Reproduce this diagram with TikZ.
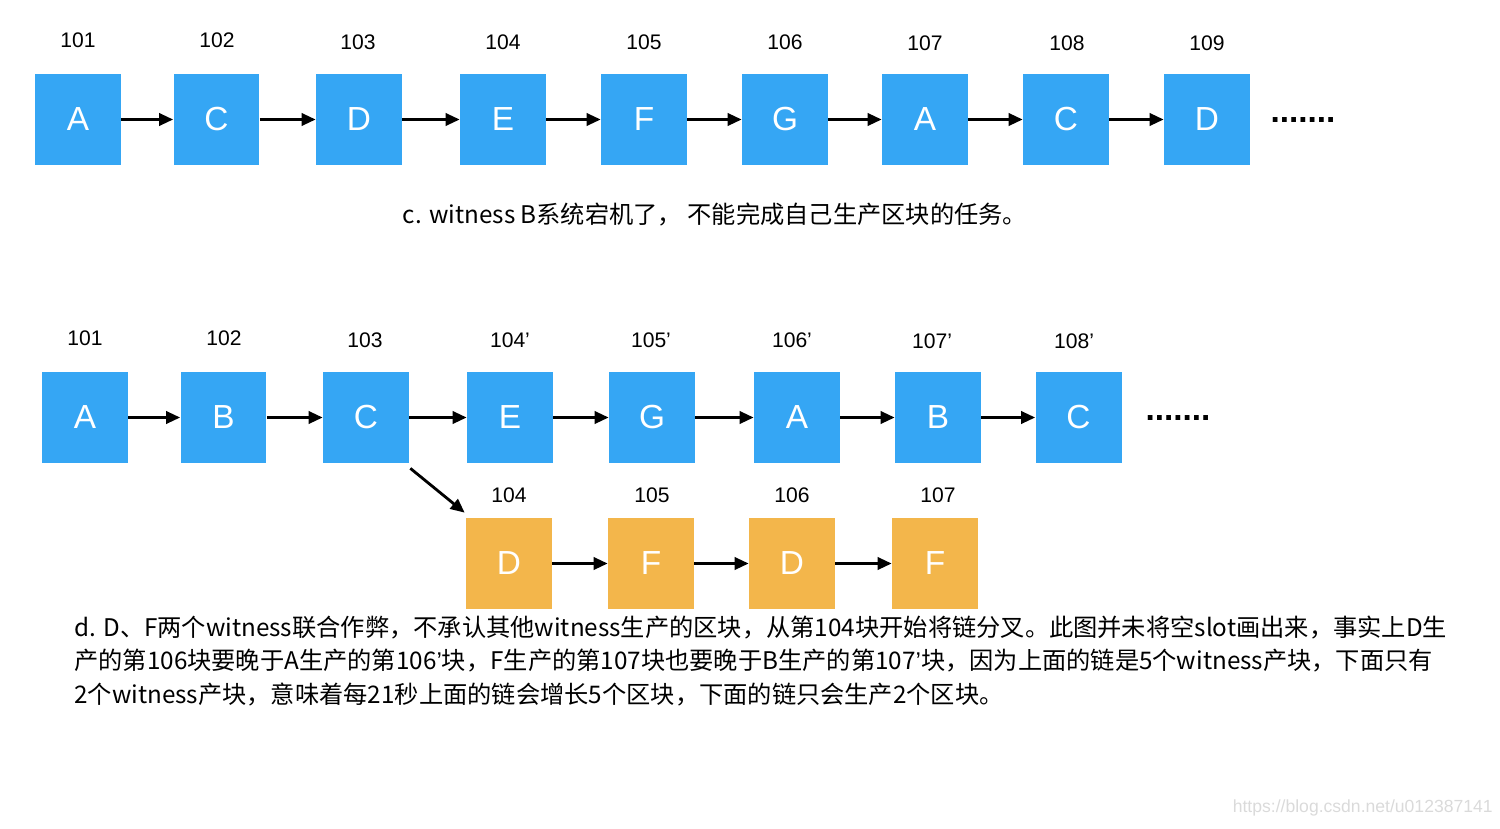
\documentclass[tikz,border=0pt]{standalone}
\usepackage{fontspec}
\setmainfont{Liberation Sans}
\newfontfamily\cjk{Noto Sans CJK SC}
\newfontfamily\latin{Liberation Sans}
\usetikzlibrary{arrows.meta,positioning}
\definecolor{Slot}{HTML}{35A6F4}
\definecolor{Fork}{HTML}{F3B64B}
\definecolor{Mark}{HTML}{DADADA}

\tikzset{
  block/.style={minimum width=1.72cm,minimum height=1.82cm,inner sep=0pt,
    fill=Slot,text=white,font=\fontsize{19}{22}\selectfont},
  forkblock/.style={block,fill=Fork},
  height/.style={font=\fontsize{12}{14}\selectfont,inner sep=0pt},
  link/.style={-{Triangle[length=8pt,width=7pt]},line width=1.6pt,black},
  more/.style={font=\fontsize{19}{20}\selectfont\bfseries,inner sep=0pt},
  note/.style={font=\cjk\fontsize{13.8}{19.3}\selectfont,inner sep=0pt}
}

\begin{document}
\begin{tikzpicture}[x=0.02cm,y=-0.02cm]
\useasboundingbox (0,0) rectangle (1500,828);
% chain c: B is down
\node[height] (ht1) at (78,40) {101};
\node[height] (ht2) at (217,40) {102};
\node[height] (ht3) at (358,42) {103};
\node[height] (ht4) at (503,42) {104};
\node[height] (ht5) at (644,42) {105};
\node[height] (ht6) at (785,42) {106};
\node[height] (ht7) at (925,43) {107};
\node[height] (ht8) at (1067,43) {108};
\node[height] (ht9) at (1207,43) {109};
\node[block] (t1) at (78,119.5) {A};
\node[block] (t2) at (216.5,119.5) {C};
\node[block] (t3) at (359,119.5) {D};
\node[block] (t4) at (503,119.5) {E};
\node[block] (t5) at (644,119.5) {F};
\node[block] (t6) at (785,119.5) {G};
\node[block] (t7) at (925,119.5) {A};
\node[block] (t8) at (1066,119.5) {C};
\node[block] (t9) at (1207,119.5) {D};
\node[more] (tmore) at (1303,120) {.......};
\draw[link] (t1) -- (t2);
\draw[link] (t2) -- (t3);
\draw[link] (t3) -- (t4);
\draw[link] (t4) -- (t5);
\draw[link] (t5) -- (t6);
\draw[link] (t6) -- (t7);
\draw[link] (t7) -- (t8);
\draw[link] (t8) -- (t9);
\node[note] (capc) at (715,215) {c. witness B系统宕机了， 不能完成自己生产区块的任务。};

% chain d: main chain
\node[height] (hm1) at (85,338) {101};
\node[height] (hm2) at (224,338) {102};
\node[height] (hm3) at (365,340) {103};
\node[height] (hm4) at (510,340) {104’};
\node[height] (hm5) at (651,340) {105’};
\node[height] (hm6) at (792,340) {106’};
\node[height] (hm7) at (932,341) {107’};
\node[height] (hm8) at (1074,341) {108’};
\node[block] (m1) at (85,417.5) {A};
\node[block] (m2) at (223.5,417.5) {B};
\node[block] (m3) at (366,417.5) {C};
\node[block] (m4) at (510,417.5) {E};
\node[block] (m5) at (652,417.5) {G};
\node[block] (m6) at (797,417.5) {A};
\node[block] (m7) at (938,417.5) {B};
\node[block] (m8) at (1078.5,417.5) {C};
\node[more] (mmore) at (1178,418) {.......};
\draw[link] (m1) -- (m2);
\draw[link] (m2) -- (m3);
\draw[link] (m3) -- (m4);
\draw[link] (m4) -- (m5);
\draw[link] (m5) -- (m6);
\draw[link] (m6) -- (m7);
\draw[link] (m7) -- (m8);

% chain d: fork of D and F
\node[height] (hf1) at (509,495) {104};
\node[height] (hf2) at (652,495) {105};
\node[height] (hf3) at (792,495) {106};
\node[height] (hf4) at (938,495) {107};
\node[forkblock] (f1) at (509,563.5) {D};
\node[forkblock] (f2) at (651,563.5) {F};
\node[forkblock] (f3) at (792,563.5) {D};
\node[forkblock] (f4) at (935,563.5) {F};
\draw[link] ([shift={(1,5)}]m3.south east) -- ([shift={(-1,-5)}]f1.north west);
\draw[link] (f1) -- (f2);
\draw[link] (f2) -- (f3);
\draw[link] (f3) -- (f4);
\node[note,anchor=west,align=left] (capd) at (74,661) {d. D、F两个witness联合作弊，不承认其他witness生产的区块，从第104块开始将链分叉。此图并未将空slot画出来，事实上D生\\
产的第106块要晚于A生产的第106{\latin ’}块，F生产的第107块也要晚于B生产的第107{\latin ’}块，因为上面的链是5个witness产块，下面只有\\
2个witness产块，意味着每21秒上面的链会增长5个区块，下面的链只会生产2个区块。};

\node[font=\fontsize{10}{12}\selectfont,text=Mark,inner sep=0pt,anchor=east] (mark) at (1493,808) {https://blog.csdn.net/u012387141};
\end{tikzpicture}
\end{document}
